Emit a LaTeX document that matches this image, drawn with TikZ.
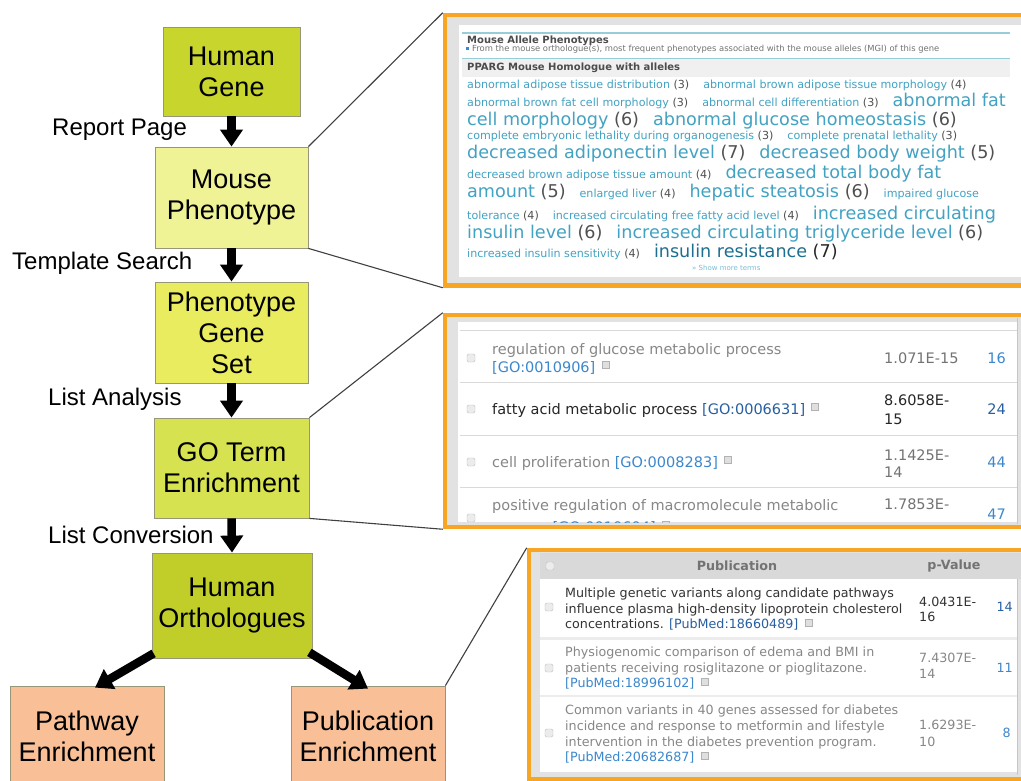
\documentclass[tikz,border=0pt]{standalone}
\usepackage{fontspec}
\setmainfont{Liberation Sans}
\newfontfamily\vfont{DejaVu Sans}
\usetikzlibrary{arrows.meta}
\definecolor{hgc}{RGB}{199,213,44}
\definecolor{mpc}{RGB}{240,242,150}
\definecolor{pgsc}{RGB}{234,236,95}
\definecolor{goc}{RGB}{215,226,80}
\definecolor{hoc}{RGB}{193,206,42}
\definecolor{enc}{RGB}{249,192,152}
\definecolor{boxline}{RGB}{150,150,120}
\definecolor{orng}{RGB}{247,166,35}
\definecolor{pgrey}{RGB}{226,226,226}
\definecolor{termc}{RGB}{66,162,194}
\definecolor{termd}{RGB}{30,110,145}
\definecolor{cntc}{RGB}{80,80,80}
\definecolor{linkc}{RGB}{60,135,205}
\definecolor{linkd}{RGB}{40,95,160}
\definecolor{rulec}{RGB}{150,205,215}
\definecolor{fadec}{RGB}{135,135,135}
\newcommand\tgap{\hspace{14pt}}
\newcommand\tgS[2]{{\fontsize{11.1}{12}\selectfont\textcolor{termc}{#1} \textcolor{cntc}{(#2)}}}
\newcommand\tgL[2]{{\fontsize{17.6}{19}\selectfont\textcolor{termc}{#1} \textcolor{cntc}{(#2)}}}
\newcommand\tgSx[1]{{\fontsize{11.1}{12}\selectfont\textcolor{termc}{#1}}}
\newcommand\tgLx[1]{{\fontsize{17.6}{19}\selectfont\textcolor{termc}{#1}}}
\begin{document}
\begin{tikzpicture}[x=1pt,y=-1pt,
  box/.style={draw=boxline, line width=0.8pt, align=center, inner sep=0pt,
    font=\fontsize{27}{31}\selectfont},
  lbl/.style={anchor=west, inner sep=0pt, font=\fontsize{24}{28}\selectfont},
  arr/.style={line width=8.5pt, -{Triangle[width=22pt,length=17pt]}, black},
  conn/.style={draw=black!75, line width=1.1pt},
  panel/.style={draw=orng, line width=4.5pt, fill=pgrey, inner sep=0pt},
  cl/.style={anchor=base west, inner sep=0pt, font=\vfont},
  gt/.style={cl, font=\vfont\fontsize{14.5}{18}\selectfont},
  pt/.style={cl, font=\vfont\fontsize{12.7}{15}\selectfont},
  chk/.style={draw=gray!50, fill=gray!15, rounded corners=1.5pt, minimum size=8pt, inner sep=0pt},
  icon/.style={draw=gray!60, fill=gray!25, minimum size=7pt, inner sep=0pt, anchor=north west}
]
\useasboundingbox (0,0) rectangle (1021,781);
\fill[white] (0,0) rectangle (1021,781);

% ---------- flow boxes ----------
\node[box, fill=hgc, minimum width=137pt, minimum height=89pt] (hg) at (231.5,71.5) {Human\\Gene};
\node[box, fill=mpc, minimum width=153pt, minimum height=101pt] (mp) at (231.5,197.5) {Mouse\\Phenotype};
\node[box, fill=pgsc, minimum width=153pt, minimum height=101pt] (pgs) at (231.5,332.5) {Phenotype\\Gene\\Set};
\node[box, fill=goc, minimum width=155pt, minimum height=100pt] (go) at (231.5,468) {GO Term\\Enrichment};
\node[box, fill=hoc, minimum width=160pt, minimum height=105pt] (ho) at (232,605.5) {Human\\Orthologues};
\node[box, fill=enc, minimum width=154pt, minimum height=100pt] (pe) at (87,736) {Pathway\\Enrichment};
\node[box, fill=enc, minimum width=154pt, minimum height=100pt] (pub) at (368,736) {Publication\\Enrichment};

% ---------- arrows ----------
\draw[arr] (hg.south) -- (mp.north);
\draw[arr] (mp.south) -- (pgs.north);
\draw[arr] (pgs.south) -- (go.north);
\draw[arr] (go.south) -- (ho.north);
\draw[arr] ([xshift=2pt,yshift=5pt]ho.south west) -- ([xshift=8pt,yshift=-2pt]pe.north);
\draw[arr] ([xshift=-3pt,yshift=6pt]ho.south east) -- ([yshift=-3pt]pub.north);

% ---------- labels ----------
\node[lbl] (l1) at (52,130) {Report Page};
\node[lbl] (l2) at (12,263) {Template Search};
\node[lbl] (l3) at (48,399) {List Analysis};
\node[lbl] (l4) at (48,535) {List Conversion};

% ---------- panels ----------
\node[panel, minimum width=585pt, minimum height=270.5pt] (p1) at (737.5,150.25) {};
\node[panel, minimum width=585pt, minimum height=212pt] (p2) at (737.5,421) {};
\node[panel, minimum width=501pt, minimum height=229pt] (p3) at (779.5,664.5) {};

\draw[conn] (mp.north east) -- (p1.north west);
\draw[conn] (mp.south east) -- (p1.south west);
\draw[conn] (go.north east) -- (p2.north west);
\draw[conn] (go.south east) -- (p2.south west);
\draw[conn] (pub.north east) -- (p3.north west);

% ---------- panel 1: mouse allele phenotypes ----------
\fill[white] (459,25) rectangle (1025,277);
\draw[rulec, line width=1.5pt] (462,33) -- (1010,33);
\fill[gray!12] (462,59) rectangle (1010,77);
\draw[rulec, line width=1.5pt] (462,58.5) -- (1010,58.5);
\node[cl, font=\vfont\bfseries\fontsize{10}{12}\selectfont, text=black!70] (t1) at (467,44) {Mouse Allele Phenotypes};
\fill[linkc] (466,47) rectangle (469,50);
\node[cl, font=\vfont\fontsize{8.4}{9}\selectfont, text=black!55] (t2) at (472,52) {From the mouse orthologue(s), most frequent phenotypes associated with the mouse alleles (MGI) of this gene};
\node[cl, font=\vfont\bfseries\fontsize{10}{12}\selectfont, text=black!70] (t3) at (467,71) {PPARG Mouse Homologue with alleles};
\node[cl] (c1) at (467,89) {\tgS{abnormal adipose tissue distribution}{3}\tgap\tgS{abnormal brown adipose tissue morphology}{4}};
\node[cl] (c2) at (467,107) {\tgS{abnormal brown fat cell morphology}{3}\tgap\tgS{abnormal cell differentiation}{3}\tgap\tgLx{abnormal fat}};
\node[cl] (c3) at (467,126) {\tgL{cell morphology}{6}\tgap\tgL{abnormal glucose homeostasis}{6}};
\node[cl] (c4) at (467,140) {\tgS{complete embryonic lethality during organogenesis}{3}\tgap\tgS{complete prenatal lethality}{3}};
\node[cl] (c5) at (467,159) {\tgL{decreased adiponectin level}{7}\tgap\tgL{decreased body weight}{5}};
\node[cl] (c6) at (467,179) {\tgS{decreased brown adipose tissue amount}{4}\tgap\tgLx{decreased total body fat}};
\node[cl] (c7) at (467,198) {\tgL{amount}{5}\tgap\tgS{enlarged liver}{4}\tgap\tgL{hepatic steatosis}{6}\tgap\tgSx{impaired glucose}};
\node[cl] (c8) at (467,219) {\tgS{tolerance}{4}\tgap\tgS{increased circulating free fatty acid level}{4}\tgap\tgLx{increased circulating}};
\node[cl] (c9) at (467,238) {\tgL{insulin level}{6}\tgap\tgL{increased circulating triglyceride level}{6}};
\node[cl] (c10) at (467,258) {\tgS{increased insulin sensitivity}{4}\tgap{\fontsize{17.6}{19}\selectfont\textcolor{termd}{insulin resistance} \textcolor{black!85}{(7)}}};
\node[cl, font=\vfont\fontsize{7}{8}\selectfont, text=termc!70] (c11) at (692,270.5) {» Show more terms};

% ---------- panel 2: GO terms ----------
\fill[white] (458,322) rectangle (1017,522);
\draw[gray!45, line width=0.8pt] (1017,318) -- (1017,524);
\begin{scope}
\clip (458,322) rectangle (1017,522);
\foreach \yy in {330,382,435,487} \draw[gray!30, line width=1pt] (460,\yy) -- (1017,\yy);
\node[chk] (k1) at (471,358) {};
\node[chk] (k2) at (471,409) {};
\node[chk] (k3) at (471,462) {};
\node[chk] (k4) at (471,518) {};
\node[gt, text=fadec] (g1a) at (492,354) {regulation of glucose metabolic process};
\node[gt, text=linkc] (g1b) at (492,372) {[GO:0010906]};
\node[icon] (i1) at ([xshift=6pt]g1b.north east) {};
\node[gt, text=black!85] (g2) at (492,414) {fatty acid metabolic process \textcolor{linkd}{[GO:0006631]}};
\node[icon] (i2) at ([xshift=6pt]g2.north east) {};
\node[gt, text=fadec] (g3) at (492,467) {cell proliferation \textcolor{linkc}{[GO:0008283]}};
\node[icon] (i3) at ([xshift=6pt]g3.north east) {};
\node[gt, text=fadec] (g4a) at (492,510) {positive regulation of macromolecule metabolic};
\node[gt, text=fadec] (g4b) at (492,532) {process \textcolor{linkc}{[GO:0010604]}};
\node[icon] (i4) at ([xshift=6pt]g4b.north east) {};
\node[gt, text=black!55] (v1) at (884,363) {1.071E-15};
\node[gt, text=black!85] (v2a) at (884,405) {8.6058E-};
\node[gt, text=black!85] (v2b) at (884,424) {15};
\node[gt, text=black!55] (v3a) at (884,460) {1.1425E-};
\node[gt, text=black!55] (v3b) at (884,477) {14};
\node[gt, text=black!55] (v4a) at (884,509) {1.7853E-};
\node[gt, text=linkc, anchor=base east] (n1) at (1006,363) {16};
\node[gt, text=linkd, anchor=base east] (n2) at (1006,414) {24};
\node[gt, text=linkc, anchor=base east] (n3) at (1006,467) {44};
\node[gt, text=linkc, anchor=base east] (n4) at (1006,519) {47};
\end{scope}

% ---------- panel 3: publications ----------
\fill[white] (540,553) rectangle (1017,772);
\fill[gray!30] (540,553) rectangle (1021,579);
\draw[gray!45, line width=0.8pt] (1017,579) -- (1017,775);
\draw[gray!15, line width=2.5pt] (540,638.5) -- (1017,638.5);
\draw[gray!15, line width=2.5pt] (540,696) -- (1017,696);
\node[chk] (h0) at (550,566) {};
\node[pt, anchor=center, font=\vfont\bfseries\fontsize{12.7}{15}\selectfont, text=black!55] (hp) at (737,566) {Publication};
\node[pt, anchor=center, font=\vfont\bfseries\fontsize{12.7}{15}\selectfont, text=black!55] (hv) at (954,566) {p-Value};
\node[chk] (q1) at (549,607) {};
\node[chk] (q2) at (549,668) {};
\node[chk] (q3) at (549,733) {};
\node[pt, text=black!80] (a1) at (565,597.5) {Multiple genetic variants along candidate pathways};
\node[pt, text=black!80] (a2) at (565,613) {influence plasma high-density lipoprotein cholesterol};
\node[pt, text=black!80] (a3) at (565,628.5) {concentrations. \textcolor{linkd}{[PubMed:18660489]}};
\node[icon] (j1) at ([xshift=6pt]a3.north east) {};
\node[pt, text=fadec] (b1) at (565,656.5) {Physiogenomic comparison of edema and BMI in};
\node[pt, text=fadec] (b2) at (565,672.5) {patients receiving rosiglitazone or pioglitazone.};
\node[pt, text=linkc] (b3) at (565,687.5) {[PubMed:18996102]};
\node[icon] (j2) at ([xshift=6pt]b3.north east) {};
\node[pt, text=fadec] (d1) at (565,714.5) {Common variants in 40 genes assessed for diabetes};
\node[pt, text=fadec] (d2) at (565,730.5) {incidence and response to metformin and lifestyle};
\node[pt, text=fadec] (d3) at (565,746) {intervention in the diabetes prevention program.};
\node[pt, text=linkc] (d4) at (565,761.5) {[PubMed:20682687]};
\node[icon] (j3) at ([xshift=6pt]d4.north east) {};
\node[pt, text=black!80] (w1a) at (919,606) {4.0431E-};
\node[pt, text=black!80] (w1b) at (919,621.5) {16};
\node[pt, text=fadec] (w2a) at (919,662.5) {7.4307E-};
\node[pt, text=fadec] (w2b) at (919,678.5) {14};
\node[pt, text=fadec] (w3a) at (919,729.5) {1.6293E-};
\node[pt, text=fadec] (w3b) at (919,746) {10};
\node[pt, text=linkd, anchor=base east] (m1) at (1013,611.5) {14};
\node[pt, text=linkc, anchor=base east] (m2) at (1013,672.5) {11};
\node[pt, text=linkc, anchor=base east] (m3) at (1011,737.5) {8};
\end{tikzpicture}
\end{document}
